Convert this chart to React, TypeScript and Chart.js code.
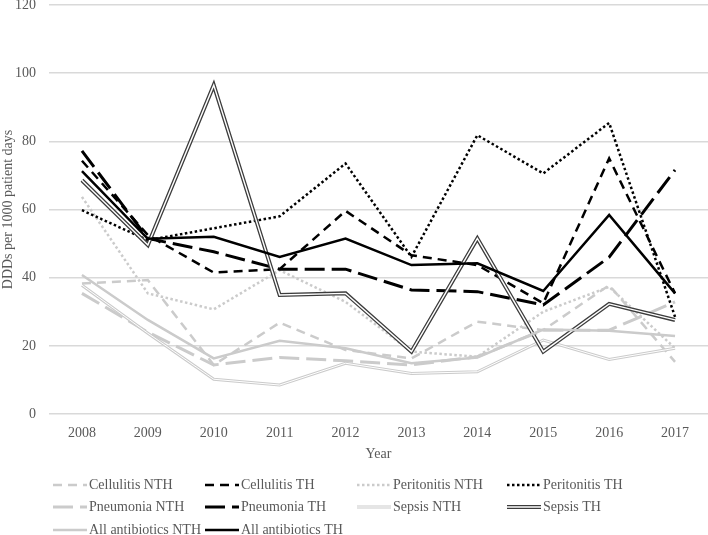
import { useEffect, useRef } from 'react';
import { Chart, registerables } from 'chart.js';

Chart.register(...registerables);

const categories = ['2008', '2009', '2010', '2011', '2012', '2013', '2014', '2015', '2016', '2017'];

const cellulitisNTH = [38.3, 39.3, 14.4, 26.8, 18.8, 16.3, 27.1, 24.6, 37.8, 15.3];
const cellulitisTH = [74.3, 52.5, 41.5, 42.5, 59.6, 46.6, 43.7, 32.5, 75.0, 35.4];
const peritonitisNTH = [63.7, 35.4, 30.7, 42.2, 32.9, 18.3, 16.8, 30.0, 37.3, 19.3];
const peritonitisTH = [59.8, 51.0, 54.5, 58.0, 73.5, 46.1, 81.8, 70.6, 85.4, 28.5];
const pneumoniaNTH = [35.4, 24.0, 14.4, 16.6, 15.6, 14.4, 16.8, 24.6, 24.6, 32.9];
const pneumoniaTH = [77.2, 51.5, 47.6, 42.5, 42.5, 36.4, 35.9, 32.0, 46.0, 71.6];
const sepsisNTH = [37.8, 23.7, 10.2, 8.5, 14.9, 11.9, 12.4, 21.7, 16.0, 19.3];
const sepsisTH = [68.6, 49.6, 96.5, 34.9, 35.4, 18.3, 51.5, 18.3, 32.3, 27.6];
const allAntibioticsNTH = [40.8, 27.6, 16.3, 21.5, 19.3, 14.9, 16.6, 24.8, 24.4, 22.9];
const allAntibioticsTH = [71.3, 51.4, 52.0, 46.1, 51.5, 43.7, 44.2, 36.1, 58.4, 35.4];

const yTicks = [0, 20, 40, 60, 80, 100, 120];

const FONT = '"Liberation Serif", "Times New Roman", serif';
const TEXT = '#595959';
const GRAY = '#cbcbcb';
const BLACK = '#000000';
const DARK = '#3c3c3c';

type S = {
  label: string;
  data: number[];
  color: string;
  width: number;
  dash: number[];
  inner?: number;
};

const series: S[] = [
  { label: 'Cellulitis NTH', data: cellulitisNTH, color: GRAY, width: 2.5, dash: [9, 6] },
  { label: 'Cellulitis TH', data: cellulitisTH, color: BLACK, width: 2.5, dash: [9, 6] },
  { label: 'Peritonitis NTH', data: peritonitisNTH, color: GRAY, width: 2.5, dash: [2.5, 2.5] },
  { label: 'Peritonitis TH', data: peritonitisTH, color: BLACK, width: 2.5, dash: [2.5, 2.5] },
  { label: 'Pneumonia NTH', data: pneumoniaNTH, color: GRAY, width: 3, dash: [20, 7] },
  { label: 'Pneumonia TH', data: pneumoniaTH, color: BLACK, width: 3, dash: [20, 7] },
  { label: 'Sepsis NTH', data: sepsisNTH, color: GRAY, width: 3, dash: [], inner: 1 },
  { label: 'Sepsis TH', data: sepsisTH, color: DARK, width: 4, dash: [], inner: 1.4 },
  { label: 'All antibiotics NTH', data: allAntibioticsNTH, color: GRAY, width: 2.5, dash: [] },
  { label: 'All antibiotics TH', data: allAntibioticsTH, color: BLACK, width: 2.5, dash: [] },
];

const doubleLinePlugin = {
  id: 'doubleLine',
  afterDatasetDraw(chart: any, args: any) {
    const ds = chart.data.datasets[args.index];
    if (!ds.innerWidth) return;
    const pts = args.meta.data;
    const ctx = chart.ctx;
    ctx.save();
    ctx.beginPath();
    pts.forEach((p: any, i: number) => (i ? ctx.lineTo(p.x, p.y) : ctx.moveTo(p.x, p.y)));
    ctx.strokeStyle = '#ffffff';
    ctx.lineWidth = ds.innerWidth;
    ctx.lineJoin = 'miter';
    ctx.stroke();
    ctx.restore();
  },
};

const legendPlugin = {
  id: 'gridLegend',
  afterDraw(chart: any) {
    const ctx = chart.ctx;
    const colX = [53, 205, 357, 507];
    const rowY = [485, 507, 530];
    const sampleLen = 34;
    chart.data.datasets.forEach((ds: any, i: number) => {
      const x = colX[i % 4];
      const y = rowY[Math.floor(i / 4)];
      ctx.save();
      ctx.beginPath();
      ctx.moveTo(x, y);
      ctx.lineTo(x + sampleLen, y);
      ctx.strokeStyle = ds.borderColor;
      ctx.lineWidth = ds.borderWidth;
      ctx.setLineDash(ds.borderDash || []);
      ctx.lineCap = 'butt';
      ctx.stroke();
      if (ds.innerWidth) {
        ctx.beginPath();
        ctx.moveTo(x, y);
        ctx.lineTo(x + sampleLen, y);
        ctx.setLineDash([]);
        ctx.strokeStyle = '#ffffff';
        ctx.lineWidth = ds.innerWidth;
        ctx.stroke();
      }
      ctx.fillStyle = TEXT;
      ctx.font = `14px ${FONT}`;
      ctx.textAlign = 'left';
      ctx.textBaseline = 'middle';
      ctx.fillText(ds.label, x + sampleLen + 2, y);
      ctx.restore();
    });
  },
};

export default function App() {
  const ref = useRef<HTMLCanvasElement | null>(null);

  useEffect(() => {
    if (!ref.current) return;
    const chart = new Chart(ref.current, {
      type: 'line',
      data: {
        labels: categories,
        datasets: series.map((s, i) => ({
          label: s.label,
          data: s.data,
          borderColor: s.color,
          backgroundColor: s.color,
          borderWidth: s.width,
          borderDash: s.dash,
          innerWidth: s.inner,
          pointRadius: 0,
          pointHoverRadius: 0,
          tension: 0,
          fill: false,
          borderCapStyle: 'butt',
          borderJoinStyle: 'miter',
          order: series.length - i,
        })) as any,
      },
      options: {
        responsive: false,
        animation: false,
        events: [],
        layout: { padding: { left: 0, right: 0, top: 0, bottom: 72 } },
        plugins: {
          legend: { display: false },
          tooltip: { enabled: false },
          title: { display: false },
        },
        scales: {
          x: {
            type: 'category',
            offset: true,
            grid: { display: false, drawTicks: false },
            border: { display: false },
            ticks: {
              color: TEXT,
              font: { family: FONT, size: 14 },
              padding: 11,
              maxRotation: 0,
              autoSkip: false,
            },
            title: {
              display: true,
              text: 'Year',
              color: TEXT,
              font: { family: FONT, size: 14 },
              padding: 0,
            },
            afterFit: (scale: any) => {
              scale.height = 49;
            },
          },
          y: {
            min: 0,
            max: 120,
            afterBuildTicks: (scale: any) => {
              scale.ticks = yTicks.map((v) => ({ value: v }));
            },
            grid: {
              color: '#d9d9d9',
              lineWidth: 1.5,
              drawTicks: true,
              tickLength: 13,
              tickColor: 'rgba(0,0,0,0)',
            },
            border: { display: false },
            ticks: {
              color: TEXT,
              font: { family: FONT, size: 14, lineHeight: 0.72 },
              padding: 0,
            },
            title: {
              display: true,
              text: 'DDDs per 1000 patient days',
              color: TEXT,
              font: { family: FONT, size: 14 },
              padding: 0,
            },
            afterFit: (scale: any) => {
              scale.width = 49;
            },
          },
        },
      } as any,
      plugins: [doubleLinePlugin, legendPlugin],
    });
    return () => chart.destroy();
  }, []);

  return (
    <div style={{ position: 'absolute', left: 0, top: 0, width: 708, height: 535, background: '#fff' }}>
      <canvas ref={ref} width={708} height={535} style={{ display: 'block' }} />
    </div>
  );
}
